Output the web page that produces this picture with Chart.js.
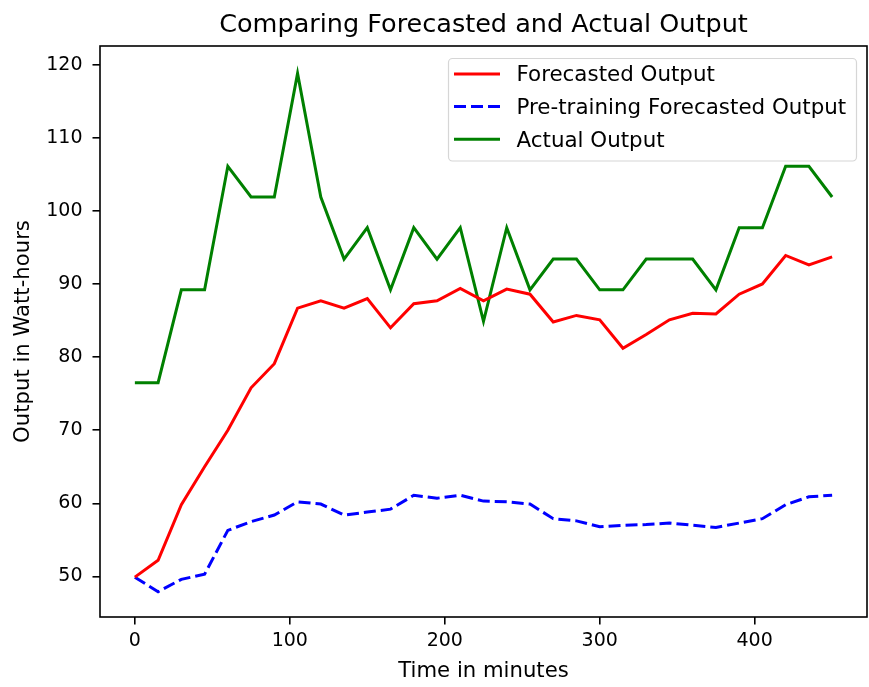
<!DOCTYPE html>
<html>
<head>
<meta charset="utf-8">
<script src="https://cdn.jsdelivr.net/npm/chart.js@4.4.1/dist/chart.umd.min.js"></script>
<style>
  html, body { margin: 0; padding: 0; background: #fff; }
  canvas { display: block; }
</style>
</head>
<body>
<canvas id="chart" width="869" height="687"></canvas>
<script>
/* Comparing Forecasted and Actual Output */

const minutes = [0, 15, 30, 45, 60, 75, 90, 105, 120, 135, 150, 165, 180, 195, 210, 225,
                 240, 255, 270, 285, 300, 315, 330, 345, 360, 375, 390, 405, 420, 435, 450];

const forecasted = [49.9, 52.2, 59.8, 65.0, 70.0, 75.8, 79.1, 86.7, 87.7, 86.7, 88.0, 84.0,
                    87.3, 87.7, 89.4, 87.7, 89.3, 88.6, 84.8, 85.7, 85.1, 81.2, 83.1, 85.1,
                    86.0, 85.9, 88.6, 90.0, 93.9, 92.6, 93.7];

const preTraining = [49.9, 47.9, 49.6, 50.3, 56.3, 57.5, 58.4, 60.2, 59.9, 58.4, 58.8, 59.2,
                     61.1, 60.7, 61.1, 60.3, 60.2, 59.9, 57.9, 57.6, 56.8, 57.0, 57.1, 57.3,
                     57.0, 56.7, 57.3, 57.9, 59.8, 60.9, 61.1];

const actual = [76.5, 76.5, 89.2, 89.2, 106.1, 101.9, 101.9, 118.8, 101.9, 93.4, 97.7, 89.2,
                97.7, 93.4, 97.7, 84.9, 97.7, 89.2, 93.4, 93.4, 89.2, 89.2, 93.4, 93.4,
                93.4, 89.2, 97.7, 97.7, 106.1, 106.1, 101.9];

const xTicks = [0, 100, 200, 300, 400];
const yTicks = [50, 60, 70, 80, 90, 100, 110, 120];

const FONT = 'DejaVu Sans';
const TICK_FONT = { family: FONT, size: 19 };
const LABEL_FONT = { family: FONT, size: 21.2 };

const toPoints = ys => minutes.map((m, i) => ({ x: m, y: ys[i] }));

// frame, title and legend box drawn on top of the chart
const decor = {
  id: 'decor',
  afterDatasetsDraw(chart) {
    const { ctx, chartArea: a } = chart;
    ctx.save();
    ctx.strokeStyle = '#000';
    ctx.lineWidth = 1.6;
    ctx.strokeRect(a.left, a.top, a.right - a.left, a.bottom - a.top);
    ctx.restore();
  },
  afterDraw(chart) {
    const { ctx, chartArea: a } = chart;
    ctx.save();
    // title
    ctx.fillStyle = '#000';
    ctx.font = `25.5px "${FONT}"`;
    ctx.textAlign = 'center';
    ctx.textBaseline = 'alphabetic';
    ctx.fillText('Comparing Forecasted and Actual Output', (a.left + a.right) / 2, 32);

    // legend
    const bx = 448.5, by = 58.5, bw = 408, bh = 102.5, r = 4;
    ctx.beginPath();
    ctx.roundRect(bx, by, bw, bh, r);
    ctx.fillStyle = 'rgba(255,255,255,0.8)';
    ctx.fill();
    ctx.strokeStyle = '#d6d6d6';
    ctx.lineWidth = 1.2;
    ctx.stroke();

    ctx.font = `21.4px "${FONT}"`;
    ctx.textAlign = 'left';
    chart.data.datasets.forEach((ds, i) => {
      const y = 74 + i * 32.6;
      ctx.beginPath();
      ctx.setLineDash(ds.borderDash || []);
      ctx.strokeStyle = ds.borderColor;
      ctx.lineWidth = ds.borderWidth;
      ctx.moveTo(454, y);
      ctx.lineTo(500, y);
      ctx.stroke();
      ctx.setLineDash([]);
      ctx.fillStyle = '#000';
      ctx.fillText(ds.label, 516.5, y + 7.4);
    });
    ctx.restore();
  }
};

new Chart(document.getElementById('chart'), {
  type: 'line',
  data: {
    datasets: [
      { label: 'Forecasted Output', data: toPoints(forecasted), borderColor: '#ff0000', borderWidth: 3 },
      { label: 'Pre-training Forecasted Output', data: toPoints(preTraining), borderColor: '#0000ff', borderWidth: 3, borderDash: [12, 5] },
      { label: 'Actual Output', data: toPoints(actual), borderColor: '#008000', borderWidth: 3 }
    ]
  },
  options: {
    responsive: false,
    animation: false,
    layout: { padding: { top: 46, right: 2, left: 0, bottom: 0 } },
    elements: { point: { radius: 0 }, line: { tension: 0, fill: false } },
    plugins: { legend: { display: false }, title: { display: false }, tooltip: { enabled: false } },
    scales: {
      x: {
        type: 'linear',
        min: -22.5,
        max: 472.5,
        afterBuildTicks: axis => { axis.ticks = xTicks.map(v => ({ value: v })); },
        afterFit: axis => { axis.height = 70; },
        border: { display: false },
        grid: { drawOnChartArea: false, drawTicks: true, tickLength: 7.5, color: '#000', lineWidth: 1.6 },
        ticks: { color: '#000', font: TICK_FONT, padding: 5, maxRotation: 0 },
        title: { display: true, text: 'Time in minutes', color: '#000', font: LABEL_FONT, padding: { top: 0, bottom: 2.5 } }
      },
      y: {
        min: 44.45,
        max: 122.55,
        afterBuildTicks: axis => { axis.ticks = yTicks.map(v => ({ value: v })); },
        afterFit: axis => { axis.width = 100; },
        border: { display: false },
        grid: { drawOnChartArea: false, drawTicks: true, tickLength: 7.5, color: '#000', lineWidth: 1.6 },
        ticks: { color: '#000', font: TICK_FONT, padding: 10 },
        title: { display: true, text: 'Output in Watt-hours', color: '#000', font: LABEL_FONT, padding: { top: 10.5, bottom: 0 } }
      }
    }
  },
  plugins: [decor]
});
</script>
</body>
</html>
